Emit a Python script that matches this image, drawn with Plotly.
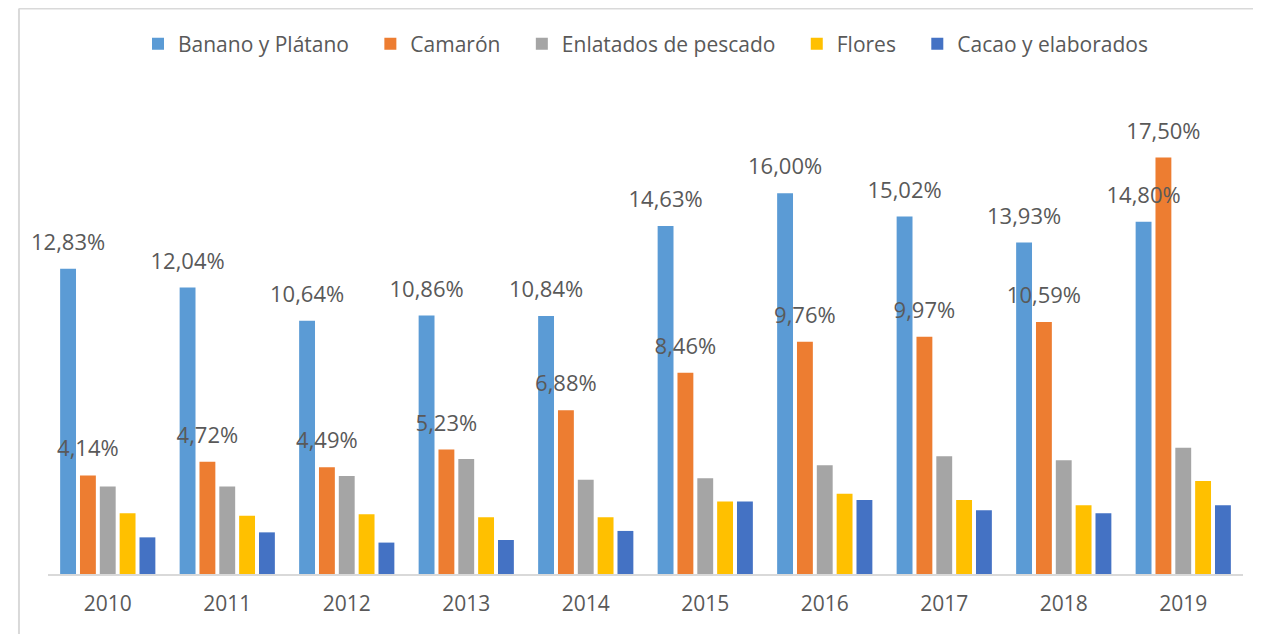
import plotly.graph_objects as go

years = ["2010", "2011", "2012", "2013", "2014", "2015", "2016", "2017", "2018", "2019"]
banano = [12.83, 12.04, 10.64, 10.86, 10.84, 14.63, 16.00, 15.02, 13.93, 14.80]
camaron = [4.14, 4.72, 4.49, 5.23, 6.88, 8.46, 9.76, 9.97, 10.59, 17.50]
enlatados = [3.68, 3.68, 4.12, 4.83, 3.96, 4.02, 4.57, 4.95, 4.78, 5.31]
flores = [2.55, 2.45, 2.51, 2.39, 2.39, 3.05, 3.37, 3.11, 2.89, 3.91]
cacao = [1.54, 1.75, 1.32, 1.43, 1.81, 3.05, 3.11, 2.68, 2.55, 2.89]

series = [
    ("Banano y Plátano", banano, "#5B9BD5", True),
    ("Camarón", camaron, "#ED7D31", True),
    ("Enlatados de pescado", enlatados, "#A5A5A5", False),
    ("Flores", flores, "#FFC000", False),
    ("Cacao y elaborados", cacao, "#4472C4", False),
]

TXT = "#595959"
FONT = "Open Sans"
PAD = "\u00a0\u00a0\u00a0"

fig = go.Figure()
for i, (name, vals, color, lab) in enumerate(series):
    fig.add_trace(go.Bar(
        x=years, y=vals, name=name + (PAD if i < len(series) - 1 else ""),
        marker=dict(color=color, line=dict(width=0)),
        offsetgroup=str(i), alignmentgroup="a",
        hoverinfo="skip",
    ))
for i, (name, vals, color, lab) in enumerate(series):
    if lab:
        fig.add_trace(go.Scatter(
            x=years, y=vals, mode="markers+text",
            text=[("%.2f%%" % v).replace(".", ",") for v in vals],
            textposition="top center",
            textfont=dict(family=FONT, size=22, color=TXT),
            marker=dict(size=20, opacity=0),
            offsetgroup=str(i), alignmentgroup="a",
            showlegend=False, hoverinfo="skip", cliponaxis=False,
        ))

fig.update_layout(
    width=1253, height=626,
    barmode="group", bargap=0.17, bargroupgap=0.2,
    scattermode="group", scattergap=0.17,
    paper_bgcolor="white", plot_bgcolor="white",
    margin=dict(l=40, r=18, t=92, b=60),
    font=dict(family=FONT, size=21, color=TXT),
    legend=dict(orientation="h", x=0.5, xanchor="center", y=1.118, yanchor="middle",
                font=dict(family=FONT, size=21, color=TXT), itemclick=False),
    xaxis=dict(showline=True, linecolor="#D9D9D9", linewidth=2, ticks="",
               tickfont=dict(family=FONT, size=21, color=TXT), ticklabelstandoff=10,
               showgrid=False, zeroline=False),
    yaxis=dict(visible=False, range=[0, 19.92], showgrid=False, zeroline=False),
    shapes=[
        dict(type="line", xref="paper", yref="paper", x0=-0.0243, x1=-0.0243, y0=-0.2, y1=1.193,
             line=dict(color="#D9D9D9", width=2)),
        dict(type="line", xref="paper", yref="paper", x0=-0.0243, x1=1.1, y0=1.193, y1=1.193,
             line=dict(color="#D9D9D9", width=2)),
    ],
)

fig.write_html("out.html")
